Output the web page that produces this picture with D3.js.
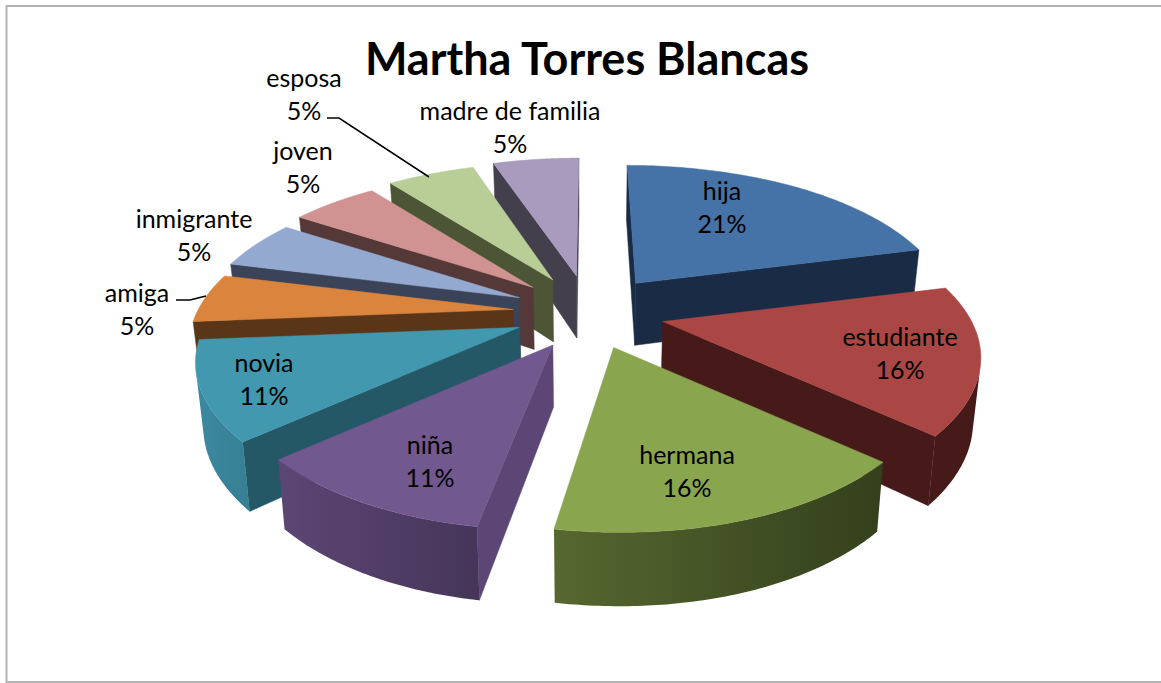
<!DOCTYPE html>
<html><head><meta charset="utf-8">
<script src="https://cdn.jsdelivr.net/npm/d3@7"></script>
<style>html,body{margin:0;padding:0;background:#fff}svg{display:block}text{font-family:Lato,"Open Sans",sans-serif;fill:#000}</style>
</head><body><svg id="c" width="1161" height="683"><defs></defs></svg>
<script>
const title = "Martha Torres Blancas";
const categories = ["hija","estudiante","hermana","niña","novia","amiga","inmigrante","joven","esposa","madre de familia"];
const percents = [21,16,16,11,11,5,5,5,5,5];
const counts = [4,3,3,2,2,1,1,1,1,1];
const topColors = ["#4572a7","#aa4643","#89a54e","#71588f","#4198af","#db843d","#93a9cf","#d19392","#b9cd96","#a99bbd"];
const cutColors = ["#1a2c45","#451a18","#35411d","#5c4675","#255866","#5a3518","#3b4358","#553838","#4c5536","#443f4d"];
const wallLeft  = ["#1a2c45","#451a18","#566730","#5c4675","#3c899f","#5a3518","#3b4358","#553838","#4c5536","#443f4d"];
const wallRight = ["#1a2c45","#451a18","#33401c","#463559","#367f94","#5a3518","#3b4358","#553838","#4c5536","#443f4d"];
// label layout: [centre x, first-line y, second-line y]
const labelLayout = [[722,190,223],[900,336,369],[687,454,487],[430,444,477],[264,362,395],[137,292,325],[194,218,251],[303,150,183],[304,77,110],[510,110,143]];
const leaders = [[[327,118],[339,118],[429,177]],[[176,300],[190,300],[206,296]]];
const framePath = [[1161,6],[6.5,6],[6.5,682],[1161,682]];

// projection of the tilted pie
const cx=589, cy=312.5, radX=312, radY=144, explodeX=76, explodeY=37, persp=0.221, depth=62, inset=0.98, offsetPersp=0.3, sideTrim=3;
const svg=d3.select("#c");
const defs=svg.select("defs");
const persS=v=>1/(1-persp*v);
const arcs=d3.pie().value(d=>d).sort(null)(counts);

function topPoint(a,theta){
  const bis=(a.startAngle+a.endAngle)/2, v=-Math.cos(theta), s=persS(v), sn=Math.sin(theta);
  const k=offsetPersp+(1-offsetPersp)*Math.pow(v,6);
  return [cx+explodeX*Math.sin(bis)*(1+k*(s-1))+radX*sn*s-sideTrim*Math.abs(sn),
          cy-explodeY*Math.cos(bis)+radY*v*s, s];
}
function apexPoint(a){
  const bis=(a.startAngle+a.endAngle)/2;
  return [cx+explodeX*Math.sin(bis), cy-explodeY*Math.cos(bis), 1];
}
const drop=p=>[cx+(p[0]-cx)*inset, p[1]+depth*Math.pow(p[2],0.7)];
function shoelace(q){let s=0;q.forEach((p,i)=>{const r=q[(i+1)%q.length];s+=p[0]*r[1]-r[0]*p[1];});return s/2;}
const line=d3.line();
const closed=pts=>line(pts.map(p=>p.slice(0,2)))+"Z";

// frame (open on the right, as in the source screenshot)
svg.append("path").attr("d",line(framePath)).attr("fill","none").attr("stroke","#b3b3b3").attr("stroke-width",2);

const order=d3.range(arcs.length).sort((i,j)=>Math.cos((arcs[j].startAngle+arcs[j].endAngle)/2)-Math.cos((arcs[i].startAngle+arcs[i].endAngle)/2));
const gs=svg.selectAll("g.slice").data(order).join("g").attr("class","slice");
gs.each(function(i){
  const g=d3.select(this), a=arcs[i];
  const thetas=d3.range(0,81).map(k=>a.startAngle+(a.endAngle-a.startAngle)*k/80);
  const rim=thetas.map(t=>topPoint(a,t));
  const apex=apexPoint(a);
  // cut faces
  const endQ=[apex,rim[rim.length-1],drop(rim[rim.length-1]),drop(apex)];
  const startQ=[apex,rim[0],drop(rim[0]),drop(apex)];
  [[endQ,shoelace(endQ)>0],[startQ,shoelace(startQ)<0]].forEach(([q,vis])=>{
    if(vis) g.append("path").attr("d",closed(q)).attr("fill",cutColors[i]).attr("stroke",cutColors[i]).attr("stroke-width",.5);
  });
  // outer wall: the front-facing run of the rim, one path with one gradient
  const front=d3.range(rim.length-1).filter(k=>shoelace([rim[k],rim[k+1],drop(rim[k+1]),drop(rim[k])])<0);
  if(front.length){
    const run=rim.slice(d3.min(front),d3.max(front)+2);
    const outline=[...run,...run.slice().reverse().map(drop)];
    const ext=d3.extent(outline,p=>p[0]);
    const id="wall"+i;
    const lg=defs.append("linearGradient").attr("id",id).attr("gradientUnits","userSpaceOnUse")
      .attr("x1",ext[0]).attr("x2",ext[1]).attr("y1",0).attr("y2",0);
    lg.append("stop").attr("offset",0).attr("stop-color",wallLeft[i]);
    lg.append("stop").attr("offset",1).attr("stop-color",wallRight[i]);
    g.append("path").attr("d",closed(outline)).attr("fill",`url(#${id})`);
  }
  // top
  g.append("path").attr("d",closed([apex,...rim])).attr("fill",topColors[i]).attr("stroke",topColors[i]).attr("stroke-width",.5);
});

// leaders
svg.selectAll("path.leader").data(leaders).join("path").attr("class","leader").attr("d",d=>line(d)).attr("fill","none").attr("stroke","#000").attr("stroke-width",1.5);

// labels
const fs=25;
categories.forEach((c,i)=>{
  const [x,y1,y2]=labelLayout[i];
  svg.append("text").attr("x",x).attr("y",y1).attr("text-anchor","middle").attr("dominant-baseline","central").attr("font-size",fs).text(c);
  svg.append("text").attr("x",x).attr("y",y2).attr("text-anchor","middle").attr("dominant-baseline","central").attr("font-size",fs).text(percents[i]+"%");
});
svg.append("text").attr("x",587).attr("y",58).attr("text-anchor","middle").attr("dominant-baseline","central").attr("font-size",45).attr("font-weight",700).text(title);
</script></body></html>
